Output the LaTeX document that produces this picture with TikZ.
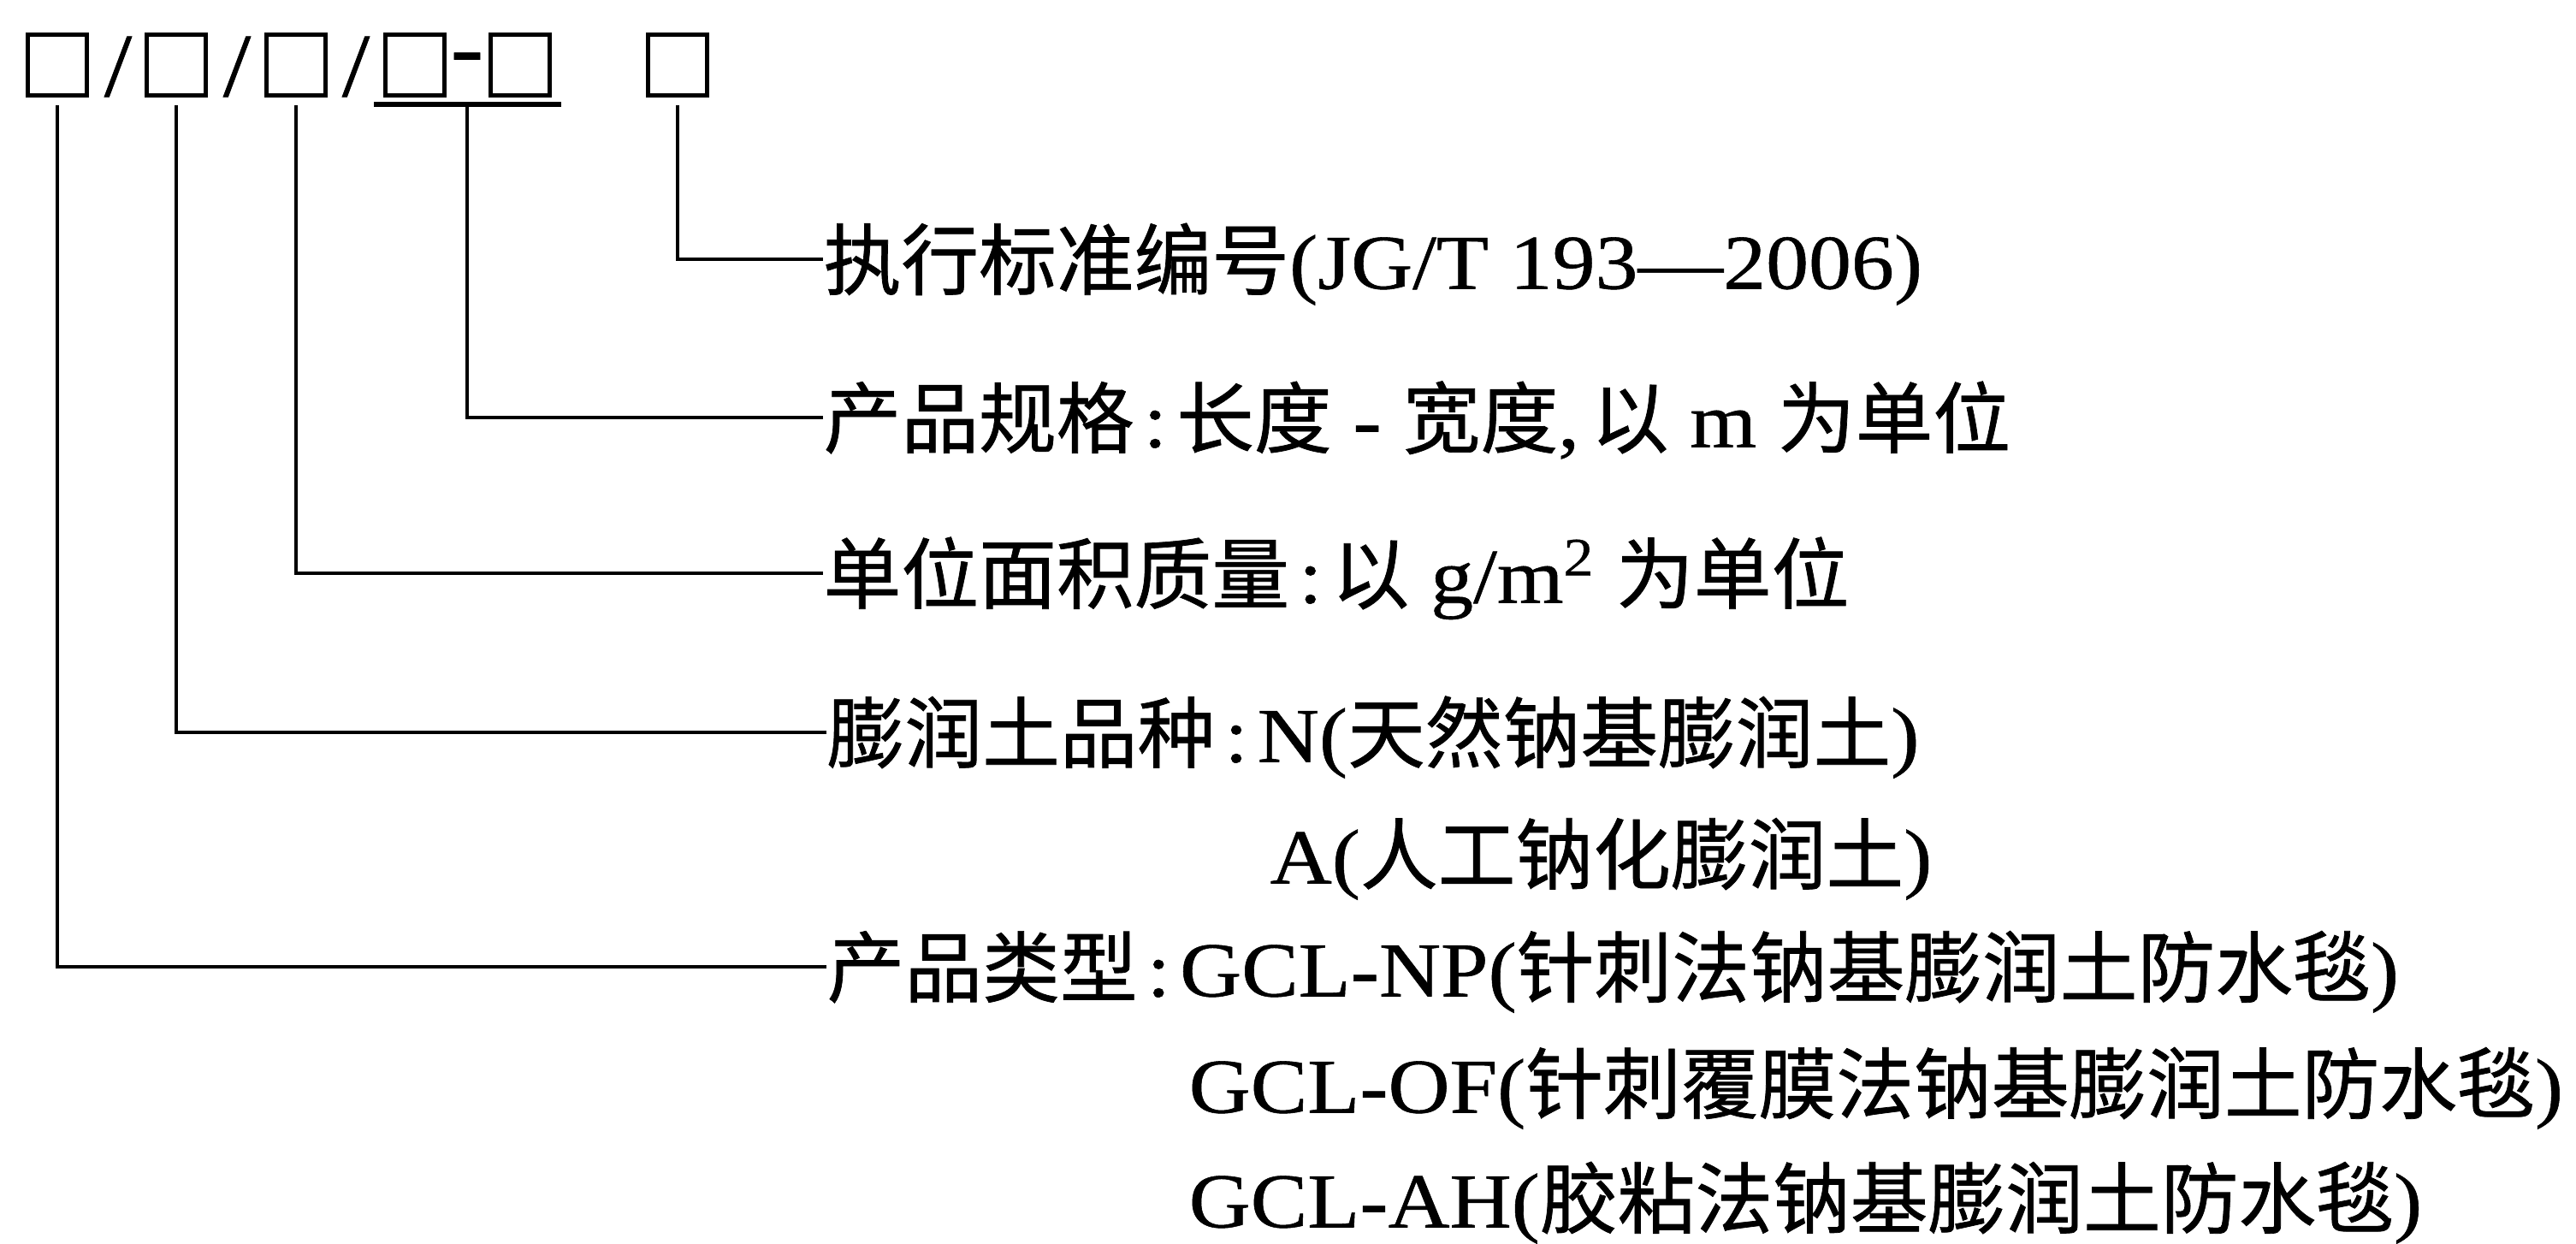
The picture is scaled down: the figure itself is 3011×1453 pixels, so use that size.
\documentclass[tikz,border=0pt]{standalone}
\usepackage{fontspec}
\setmainfont{Liberation Serif}[FakeStretch=1.1, FakeBold=0.6]
\newfontfamily\cjk{Noto Sans CJK SC}[FakeBold=0.8]

\def\lineColor{black}
\newcommand\colsep{\hspace{.12em}:\hspace{.12em}}

\begin{document}
\begin{tikzpicture}[x=0.01cm, y=-0.01cm,
    codebox/.style={draw=\lineColor, line width=0.05cm, minimum width=0.68cm, minimum height=0.7cm, inner sep=0},
    sepmark/.style={inner sep=0, font=\fontsize{30pt}{32pt}\selectfont},
    label/.style={anchor=west, inner sep=0, text height=22.7pt, text depth=3.1pt, font=\fontsize{25.8pt}{30pt}\selectfont},
    leader/.style={draw=\lineColor, line width=0.04cm}]

    % frame
    \useasboundingbox (0,0) rectangle (3011,1453);

    % code boxes
    \foreach \n/\x in {1/67,2/206,3/346,4/485,5/608,6/792}
        \node[codebox] (b\n) at (\x,76) {};
    \node[sepmark] (s1) at (138,78) {/};
    \node[sepmark] (s2) at (277,78) {/};
    \node[sepmark] (s3) at (416,78) {/};
    \node[sepmark] (s4) at (546,76) {-};
    \draw[line width=0.06cm] (437,122) -- (656,122);
    \coordinate (ul) at (546,122);

    % texts
    \node[label] (t1) at (962,303) {{\cjk 执行标准编号}(JG/T 193—2006)};
    \node[label] (t2) at (962,488) {{\cjk 产品规格}\colsep{\cjk 长度} - {\cjk 宽度},\hspace{.15em}{\cjk 以} m {\cjk 为单位}};
    \node[label] (t3) at (962,670) {{\cjk 单位面积质量}\colsep{\cjk 以} g/m\textsuperscript{2} {\cjk 为单位}};
    \node[label] (t4) at (966,856) {{\cjk 膨润土品种}\colsep N({\cjk 天然钠基膨润土})};
    \node[label] (t4a) at (1484,998) {A({\cjk 人工钠化膨润土})};
    \node[label] (t5) at (966,1130) {{\cjk 产品类型}\colsep GCL-NP({\cjk 针刺法钠基膨润土防水毯})};
    \node[label] (t5a) at (1389,1266) {GCL-OF({\cjk 针刺覆膜法钠基膨润土防水毯})};
    \node[label] (t5b) at (1389,1400) {GCL-AH({\cjk 胶粘法钠基膨润土防水毯})};

    % leaders
    \draw[leader] ([yshift=-0.09cm]b6.south) |- (t1.west);
    \draw[leader] (ul) |- (t2.west);
    \draw[leader] ([yshift=-0.09cm]b3.south) |- (t3.west);
    \draw[leader] ([yshift=-0.09cm]b2.south) |- (t4.west);
    \draw[leader] ([yshift=-0.09cm]b1.south) |- (t5.west);

\end{tikzpicture}
\end{document}
